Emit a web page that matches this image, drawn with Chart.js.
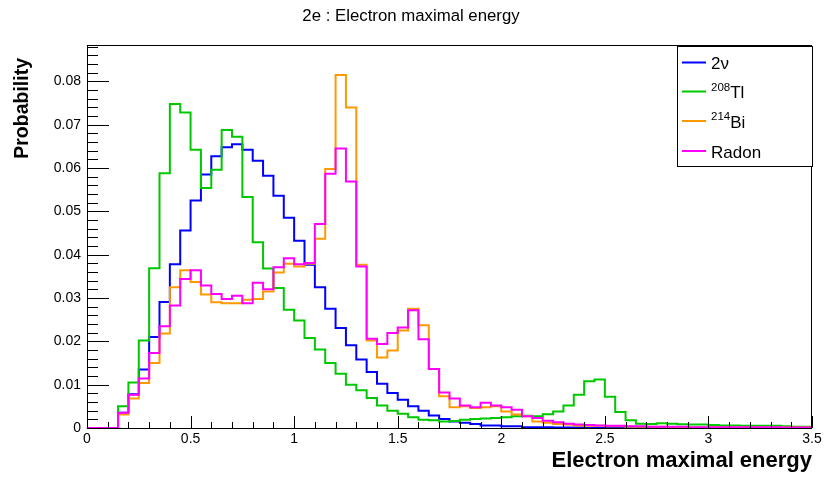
<!DOCTYPE html>
<html>
<head>
<meta charset="utf-8">
<script src="https://cdn.jsdelivr.net/npm/chart.js@4.4.1/dist/chart.umd.min.js"></script>
<style>
  html, body { margin: 0; padding: 0; background: #fff; }
</style>
</head>
<body>
<canvas id="chart" width="825" height="477"></canvas>
<script>
// histogram binning
const binWidth = 0.05;
const xMin = 0, xMax = 3.5;
const yMin = 0, yMax = 0.0884;
const xTicks = [0, 0.5, 1, 1.5, 2, 2.5, 3, 3.5];
const yTicks = [0, 0.01, 0.02, 0.03, 0.04, 0.05, 0.06, 0.07, 0.08];

const titleText = '2e : Electron maximal energy';
const xTitle = 'Electron maximal energy';
const yTitle = 'Probability';

// legend labels: [superscript, main text]
const labels = [['', '2\u03bd'], ['208', 'Tl'], ['214', 'Bi'], ['', 'Radon']];
const colors = ['#0000ff', '#00c800', '#ff9900', '#ff00ff'];

// bin contents, in units of 0.01
const twoNu = [
    0, 0, 0, 0.35, 0.78, 1.35, 2.1, 2.91, 3.78, 4.56,
    5.25, 5.85, 6.27, 6.48, 6.55, 6.42, 6.17, 5.82, 5.36, 4.85,
    4.32, 3.77, 3.25, 2.75, 2.31, 1.91, 1.58, 1.29, 1.02, 0.81,
    0.65, 0.5, 0.4, 0.29, 0.21, 0.15, 0.12, 0.09, 0.06, 0.06,
    0.04, 0.04, 0.02, 0.02, 0.015, 0.01, 0.01, 0.01, 0.005, 0.005,
    0.005, 0.005, 0.003, 0.003, 0.002, 0.002, 0.002, 0.001, 0.001, 0.001,
    0.001, 0.001, 0, 0, 0, 0, 0, 0, 0, 0
];
const tl208 = [
    0, 0, 0, 0.5, 1.05, 2.02, 3.69, 5.88, 7.48, 7.28,
    6.42, 5.54, 5.96, 6.88, 6.72, 5.33, 4.29, 3.68, 3.23, 2.73,
    2.48, 2.08, 1.81, 1.5, 1.25, 1.0, 0.87, 0.69, 0.52, 0.4,
    0.33, 0.25, 0.19, 0.18, 0.15, 0.16, 0.19, 0.21, 0.22, 0.23,
    0.25, 0.27, 0.28, 0.27, 0.32, 0.38, 0.52, 0.77, 1.08, 1.12,
    0.72, 0.37, 0.18, 0.1, 0.09, 0.11, 0.1, 0.085, 0.08, 0.08,
    0.07, 0.06, 0.06, 0.05, 0.05, 0.05, 0.05, 0.04, 0.03, 0.03
];
const bi214 = [
    0, 0, 0, 0.31, 0.68, 1.04, 1.5, 2.18, 3.25, 3.64,
    3.37, 3.08, 2.9, 2.88, 2.88, 2.96, 2.98, 3.15, 3.59, 3.79,
    3.73, 3.79, 4.37, 5.98, 8.15, 7.4, 3.77, 2.02, 1.63, 1.79,
    2.25, 2.75, 2.37, 1.36, 0.73, 0.48, 0.5, 0.46, 0.48, 0.5,
    0.38, 0.31, 0.27, 0.15, 0.12, 0.09, 0.08, 0.06, 0.05, 0.05,
    0.04, 0.04, 0.03, 0.03, 0.03, 0.03, 0.02, 0.02, 0.02, 0.02,
    0.02, 0.02, 0.02, 0.015, 0.015, 0.015, 0.01, 0.01, 0.01, 0.01
];
const radon = [
    0, 0, 0, 0.35, 0.77, 1.14, 1.73, 2.35, 2.83, 3.44,
    3.64, 3.29, 3.09, 2.98, 3.05, 2.88, 3.35, 3.2, 3.71, 3.92,
    3.78, 3.81, 4.71, 5.87, 6.45, 5.69, 3.73, 2.06, 1.94, 2.19,
    2.32, 2.72, 2.05, 1.36, 0.82, 0.68, 0.52, 0.48, 0.58, 0.52,
    0.48, 0.42, 0.27, 0.23, 0.17, 0.13, 0.1, 0.08, 0.07, 0.06,
    0.05, 0.05, 0.04, 0.04, 0.03, 0.03, 0.03, 0.03, 0.02, 0.02,
    0.02, 0.02, 0.02, 0.02, 0.015, 0.015, 0.015, 0.01, 0.01, 0.01
];

const FONT = '"Liberation Sans", Arial, Helvetica, sans-serif';

// left bin edges + closing edge, so 'before' stepping draws one flat segment per bin
function histPoints(vals) {
    let pts = vals.map((v, i) => ({x: xMin + i * binWidth, y: v / 100}));
    pts.push({x: xMax, y: vals[vals.length - 1] / 100});
    return pts;
}

function histDataset(vals, idx) {
    return {
        label: labels[idx].join(''),
        data: histPoints(vals),
        borderColor: colors[idx],
        borderWidth: 2,
        pointRadius: 0,
        stepped: 'before',
        fill: false,
        order: 3 - idx
    };
}

// ROOT-like frame, inward ticks, titles and legend
const rootStyle = {
    id: 'rootStyle',
    afterDraw(chart) {
        const ctx = chart.ctx;
        const area = chart.chartArea;
        const xs = chart.scales.x;
        const ys = chart.scales.y;
        ctx.save();
        ctx.strokeStyle = '#000';
        ctx.lineWidth = 1;
        ctx.strokeRect(area.left + 0.5, area.top + 0.5, area.right - area.left - 1, area.bottom - area.top);

        ctx.beginPath();
        for (let v = yMin; v <= yMax + 1e-9; v += 0.002) {
            let major = Math.abs(v / 0.01 - Math.round(v / 0.01)) < 1e-6;
            let py = Math.round(ys.getPixelForValue(v)) + 0.5;
            ctx.moveTo(area.left, py);
            ctx.lineTo(area.left + (major ? 22 : 11), py);
        }
        for (let v = xMin; v <= xMax + 1e-9; v += 0.1) {
            let major = Math.abs(v / 0.5 - Math.round(v / 0.5)) < 1e-6;
            let px = Math.round(xs.getPixelForValue(v)) + 0.5;
            ctx.moveTo(px, area.bottom);
            ctx.lineTo(px, area.bottom - (major ? 12 : 6));
        }
        ctx.stroke();

        ctx.fillStyle = '#000';
        ctx.font = '16.8px ' + FONT;
        ctx.textAlign = 'center';
        ctx.textBaseline = 'alphabetic';
        ctx.fillText(titleText, 411, 21);

        ctx.font = 'bold 22px ' + FONT;
        ctx.textAlign = 'right';
        ctx.fillText(xTitle, area.right, 467);

        ctx.save();
        ctx.font = 'bold 19.5px ' + FONT;
        ctx.translate(28, 58);
        ctx.rotate(-Math.PI / 2);
        ctx.textAlign = 'right';
        ctx.fillText(yTitle, 0, 0);
        ctx.restore();

        // legend box
        const box = {left: 677, top: 46, right: 813, bottom: 166};
        ctx.fillStyle = '#fff';
        ctx.fillRect(box.left, box.top, box.right - box.left, box.bottom - box.top);
        ctx.strokeRect(box.left + 0.5, box.top + 0.5, box.right - box.left - 1, box.bottom - box.top);
        const rowY = [62.5, 91.5, 121, 151];
        labels.forEach((lab, i) => {
            let y = rowY[i];
            ctx.strokeStyle = colors[i];
            ctx.lineWidth = 2;
            ctx.beginPath();
            ctx.moveTo(682, y);
            ctx.lineTo(706, y);
            ctx.stroke();
            ctx.fillStyle = '#000';
            ctx.textAlign = 'left';
            let x = 711;
            if (lab[0]) {
                ctx.font = '11.5px ' + FONT;
                ctx.fillText(lab[0], x, y - 1);
                x += ctx.measureText(lab[0]).width;
            }
            ctx.font = '17px ' + FONT;
            ctx.fillText(lab[1], x, y + 6.5);
        });
        ctx.restore();
    }
};

new Chart(document.getElementById('chart'), {
    type: 'line',
    data: {
        datasets: [
            histDataset(twoNu, 0),
            histDataset(tl208, 1),
            histDataset(bi214, 2),
            histDataset(radon, 3)
        ]
    },
    options: {
        responsive: false,
        devicePixelRatio: 1,
        animation: false,
        layout: {padding: {left: 0, top: 45, right: 13, bottom: 0}},
        plugins: {
            legend: {display: false},
            title: {display: false},
            tooltip: {enabled: false}
        },
        scales: {
            x: {
                type: 'linear',
                min: xMin,
                max: xMax,
                afterFit: s => { s.height = 49; },
                afterBuildTicks: s => { s.ticks = xTicks.map(v => ({value: v})); },
                ticks: {
                    color: '#000',
                    font: {family: FONT, size: 14},
                    padding: 3,
                    maxRotation: 0,
                    autoSkip: false,
                    callback: v => String(v)
                },
                grid: {display: false, drawTicks: false},
                border: {display: false}
            },
            y: {
                min: yMin,
                max: yMax,
                afterFit: s => { s.width = 87; },
                afterBuildTicks: s => { s.ticks = yTicks.map(v => ({value: v})); },
                ticks: {
                    color: '#000',
                    font: {family: FONT, size: 14},
                    padding: 6,
                    autoSkip: false,
                    callback: v => v === 0 ? '0' : v.toFixed(2)
                },
                grid: {display: false, drawTicks: false},
                border: {display: false}
            }
        }
    },
    plugins: [rootStyle]
});
</script>
</body>
</html>
